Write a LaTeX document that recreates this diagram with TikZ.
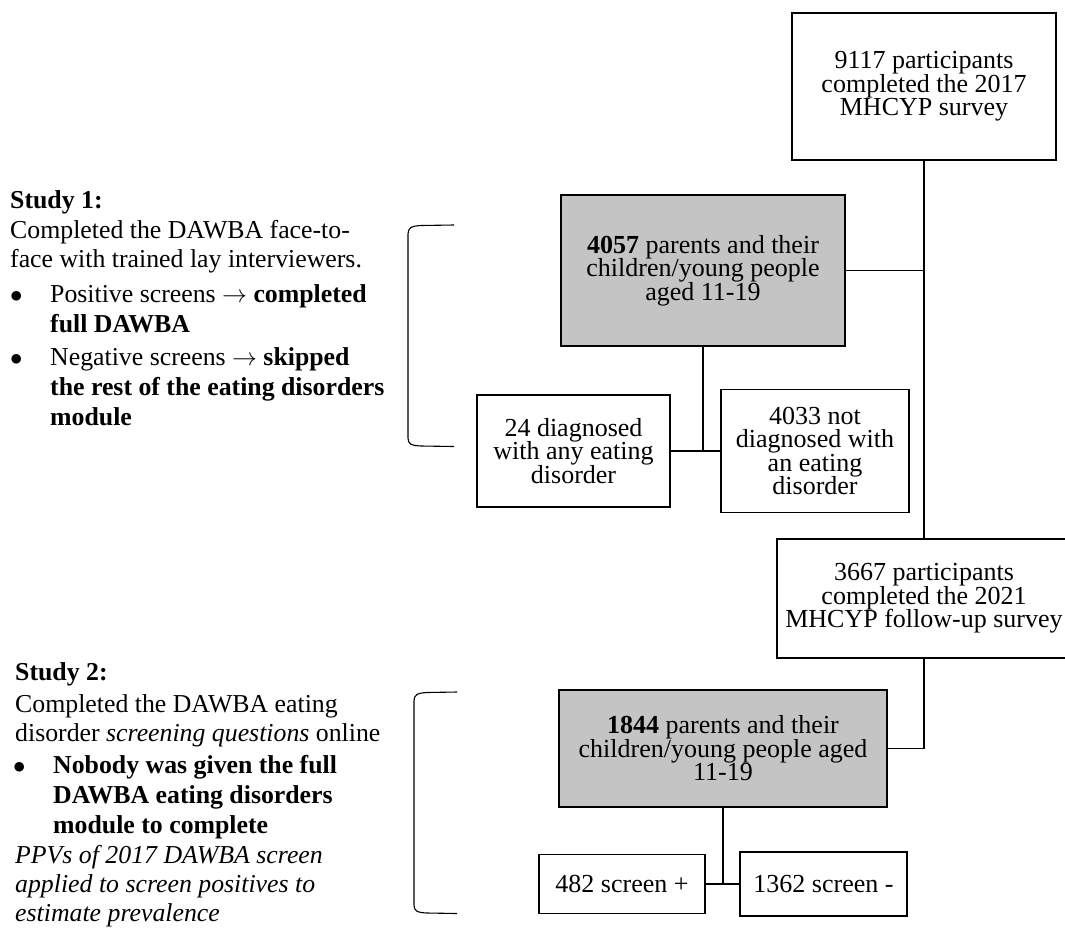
\documentclass[tikz,border=0pt]{standalone}
\usepackage{fontspec}
\setmainfont{Liberation Serif}
\definecolor{boxgray}{HTML}{C4C4C4}
\begin{document}
\begin{tikzpicture}[x=1pt,y=-1pt,
  box/.style={draw=black, line width=1.7pt, fill=white, align=center, inner sep=0pt,
    font={\fontsize{26}{23.5}\selectfont\lineskiplimit=-20pt}},
  graybox/.style={box, fill=boxgray},
  conn/.style={line width=1.7pt},
  brk/.style={line width=1.1pt, line join=round},
  lt/.style={anchor=base west, inner sep=0pt, font=\fontsize{25.8}{29}\selectfont}]
\useasboundingbox (0,0) rectangle (1065,927);
\fill[white] (0,0) rectangle (1065,927);

% boxes
\node[box, minimum width=264pt, minimum height=147pt] (b1) at (924,86.5)
  {9117 participants\\completed the 2017\\MHCYP survey};
\node[graybox, minimum width=284pt, minimum height=151pt] (b2) at (703,270.5)
  {\textbf{4057} parents and their\\children/young people\\aged 11-19};
\node[box, minimum width=193pt, minimum height=112pt] (b3) at (573.5,451)
  {24 diagnosed\\with any eating\\disorder};
\node[box, minimum width=188pt, minimum height=123pt] (b4) at (815,451)
  {4033 not\\diagnosed with\\an eating\\disorder};
\node[box, minimum width=294pt, minimum height=119pt] (b5) at (924,598.5)
  {3667 participants\\completed the 2021\\MHCYP follow-up survey};
\node[graybox, minimum width=328pt, minimum height=117pt] (b6) at (723,748.5)
  {\textbf{1844} parents and their\\children/young people aged\\11-19};
\node[box, minimum width=166pt, minimum height=59pt] (b7) at (622,884)
  {482 screen +};
\node[box, minimum width=167pt, minimum height=64pt] (b8) at (823.5,884)
  {1362 screen -};

% connectors
\draw[conn] (b1.south) -- (b1.south |- b5.north);
\draw[conn] (b2.east) -- (b2.east -| b1.south);
\draw[conn] (b2.south) -- (b2.south |- b3.east);
\draw[conn] (b3.east) -- (b3.east -| b4.west);
\draw[conn] (b5.south) |- (b6.east);
\draw[conn] (b6.south) -- (b6.south |- b7.east);
\draw[conn] (b7.east) -- (b7.east -| b8.west);

% brackets
\draw[brk] (454,225) -- (421,225.5) .. controls (411,226) and (408,228) .. (408,234)
  -- (408,438) .. controls (408,444) and (411,445.5) .. (421,446) -- (454,446.5);
\draw[brk] (457,692) -- (427,692.5) .. controls (417,693) and (414,695) .. (414,701)
  -- (414,905) .. controls (414,911) and (417,912.5) .. (427,913) -- (457,913.5);

% Study 1 text
\node[lt] (s1a) at (10,208) {\textbf{Study 1:}};
\node[lt] (s1b) at (10,238) {Completed the DAWBA face-to-};
\node[lt] (s1c) at (10,267) {face with trained lay interviewers.};
\node[lt] (s1d) at (10,302) {$\bullet$};
\node[lt] (s1e) at (50,302) {Positive screens $\rightarrow$ \textbf{completed}};
\node[lt] (s1f) at (50,332) {\textbf{full DAWBA}};
\node[lt] (s1g) at (10,365) {$\bullet$};
\node[lt] (s1h) at (50,365) {Negative screens $\rightarrow$ \textbf{skipped}};
\node[lt] (s1i) at (50,395) {\textbf{the rest of the eating disorders}};
\node[lt] (s1j) at (50,425) {\textbf{module}};

% Study 2 text
\node[lt] (s2a) at (15,680) {\textbf{Study 2:}};
\node[lt] (s2b) at (15,712) {Completed the DAWBA eating};
\node[lt] (s2c) at (15,741) {disorder \textit{screening questions} online};
\node[lt] (s2d) at (13,773) {$\bullet$};
\node[lt] (s2e) at (53,773) {\textbf{Nobody was given the full}};
\node[lt] (s2f) at (53,803) {\textbf{DAWBA eating disorders}};
\node[lt] (s2g) at (53,833) {\textbf{module to complete}};
\node[lt] (s2h) at (15,863) {\textit{PPVs of 2017 DAWBA screen}};
\node[lt] (s2i) at (15,892) {\textit{applied to screen positives to}};
\node[lt] (s2j) at (15,921) {\textit{estimate prevalence}};
\end{tikzpicture}
\end{document}
